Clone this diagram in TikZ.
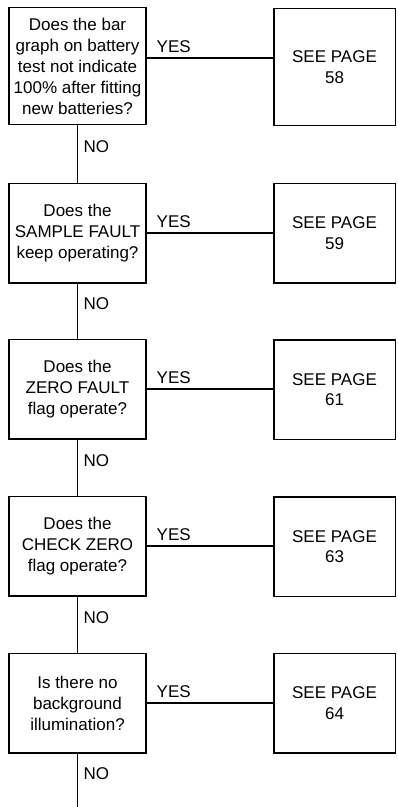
\documentclass[tikz,border=0pt]{standalone}
\usepackage{fontspec}
\setmainfont{Liberation Sans}
\usetikzlibrary{positioning}

\begin{document}
\begin{tikzpicture}[x=1bp, y=-1bp,
    question/.style={draw, line width=1.5bp, minimum width=136.5bp, minimum height=99.5bp,
        align=center, inner sep=0pt, font=\fontsize{17bp}{21bp}\selectfont},
    pagebox/.style={draw, line width=1.5bp, minimum width=121.5bp, minimum height=99.5bp,
        align=center, inner sep=0pt, font=\fontsize{17bp}{20.5bp}\selectfont},
    link/.style={line width=1.4bp},
    yeslabel/.style={anchor=south west, xshift=8bp, yshift=3bp, inner sep=1.5bp,
        font=\fontsize{17bp}{20bp}\selectfont},
    nolabel/.style={anchor=west, xshift=4bp, inner sep=1.5bp,
        font=\fontsize{17bp}{20bp}\selectfont}]
    \useasboundingbox (0,0) rectangle (397,807);

    % Questions (left column)
    \node[question, minimum height=116.5bp] (q1) at (77.5,66)
        {Does the bar\\graph on battery\\test not indicate\\100\% after fitting\\new batteries?};
    \node[question] (q2) at (77.5,233) {Does the\\SAMPLE FAULT\\keep operating?};
    \node[question] (q3) at (77.5,389) {Does the\\ZERO FAULT\\flag operate?};
    \node[question] (q4) at (77.5,546) {Does the\\CHECK ZERO\\flag operate?};
    \node[question] (q5) at (77.5,703) {Is there no\\background\\illumination?};

    % Page references (right column)
    \node[pagebox, minimum height=116.5bp] (p1) at (334.5,67) {SEE PAGE\\58};
    \node[pagebox] (p2) at (334.5,233) {SEE PAGE\\59};
    \node[pagebox] (p3) at (334.5,389.5) {SEE PAGE\\61};
    \node[pagebox] (p4) at (334.5,546.5) {SEE PAGE\\63};
    \node[pagebox] (p5) at (334.5,703) {SEE PAGE\\64};

    % YES branches
    \coordinate (yes1start) at ([yshift=8bp]q1.east);
    \draw[link] (yes1start) -- node[yeslabel, pos=0] (yes1) {YES} (yes1start -| p1.west);
    \draw[link] (q2.east) -- node[yeslabel, pos=0] (yes2) {YES} (p2.west |- q2.east);
    \draw[link] (q3.east) -- node[yeslabel, pos=0] (yes3) {YES} (p3.west |- q3.east);
    \draw[link] (q4.east) -- node[yeslabel, pos=0] (yes4) {YES} (p4.west |- q4.east);
    \draw[link] (q5.east) -- node[yeslabel, pos=0] (yes5) {YES} (p5.west |- q5.east);

    % NO branches
    \coordinate (out) at (77.5,807);
    \draw[link] (q1.south) -- node[nolabel, pos=0.37] (no1) {NO} (q2.north);
    \draw[link] (q2.south) -- node[nolabel, pos=0.37] (no2) {NO} (q3.north);
    \draw[link] (q3.south) -- node[nolabel, pos=0.37] (no3) {NO} (q4.north);
    \draw[link] (q4.south) -- node[nolabel, pos=0.37] (no4) {NO} (q5.north);
    \draw[link] (q5.south) -- node[nolabel, pos=0.37] (no5) {NO} (out);
\end{tikzpicture}
\end{document}
